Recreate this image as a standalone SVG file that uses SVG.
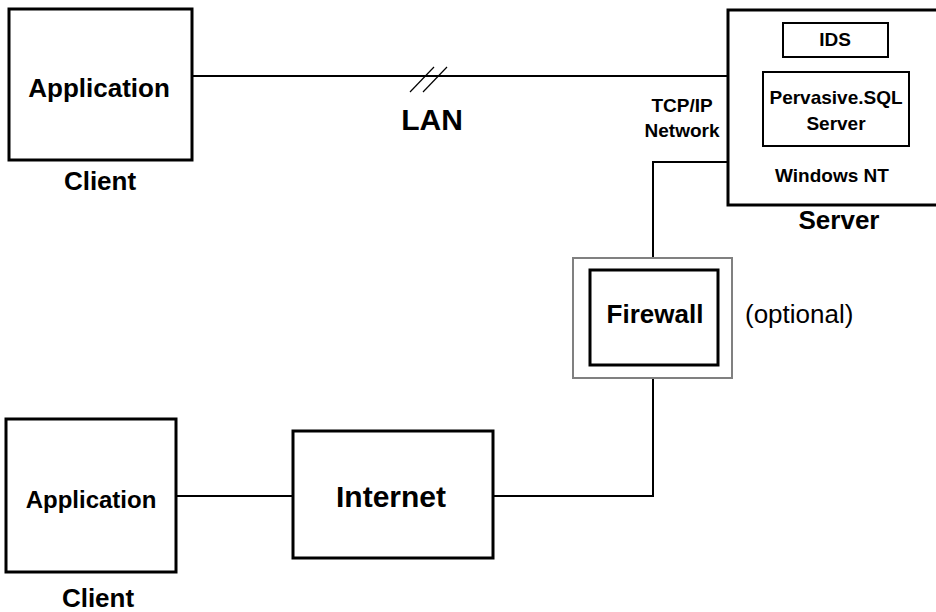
<svg xmlns="http://www.w3.org/2000/svg" width="936" height="612" viewBox="0 0 936 612">
<style>
.box{fill:#fff;stroke:#000;stroke-width:3}
.thin{fill:none;stroke:#000;stroke-width:2}
.line{fill:none;stroke:#000;stroke-width:2}
.t{font-family:"Liberation Sans",Arial,sans-serif;font-weight:bold;text-anchor:middle;fill:#000}
.big{font-size:26px}
.mid{font-size:24px}
.huge{font-size:30px}
.small{font-size:19px}
</style>
<rect width="936" height="612" fill="#fff"/>
<g id="connectors">
<line class="line" x1="192" y1="76" x2="728" y2="76"/>
<line x1="410" y1="92" x2="434" y2="67" stroke="#000" stroke-width="1.2"/>
<line x1="423" y1="92" x2="447" y2="67" stroke="#000" stroke-width="1.2"/>
<polyline class="line" points="728,162 653,162 653,270"/>
<polyline class="line" points="653,365 653,496 493,496"/>
<line class="line" x1="176" y1="496" x2="293" y2="496"/>
</g>
<g id="client1">
<rect class="box" x="9" y="9" width="183" height="151"/>
<text class="t big" x="99" y="97">Application</text>
<text class="t big" x="100" y="190">Client</text>
</g>
<g id="lan">
<text class="t huge" x="432" y="130">LAN</text>
</g>
<g id="server">
<rect class="box" x="728" y="10" width="220" height="195"/>
<g id="ids">
<rect class="thin" x="783" y="23" width="105" height="34"/>
<text class="t small" x="835" y="46">IDS</text>
</g>
<g id="pervasive">
<rect class="thin" x="763" y="72" width="146" height="74"/>
<text class="t small" x="836" y="104">Pervasive.SQL</text>
<text class="t small" x="836" y="130">Server</text>
</g>
<text class="t small" x="832" y="182">Windows NT</text>
<text class="t big" x="839" y="229">Server</text>
</g>
<g id="tcpip">
<text class="t small" x="682" y="112">TCP/IP</text>
<text class="t small" x="682" y="137">Network</text>
</g>
<g id="firewall">
<rect x="573" y="258" width="159" height="120" fill="#fff" stroke="#808080" stroke-width="2"/>
<rect class="box" x="590" y="270" width="128" height="95"/>
<text class="t big" x="655" y="323">Firewall</text>
<text x="745" y="323" font-family="'Liberation Sans',Arial,sans-serif" font-size="26" fill="#000">(optional)</text>
</g>
<g id="client2">
<rect class="box" x="6" y="419" width="170" height="153"/>
<text class="t mid" x="91" y="508">Application</text>
<text class="t big" x="98" y="607">Client</text>
</g>
<g id="internet">
<rect class="box" x="293" y="431" width="200" height="127"/>
<text class="t huge" x="391" y="507">Internet</text>
</g>
</svg>
